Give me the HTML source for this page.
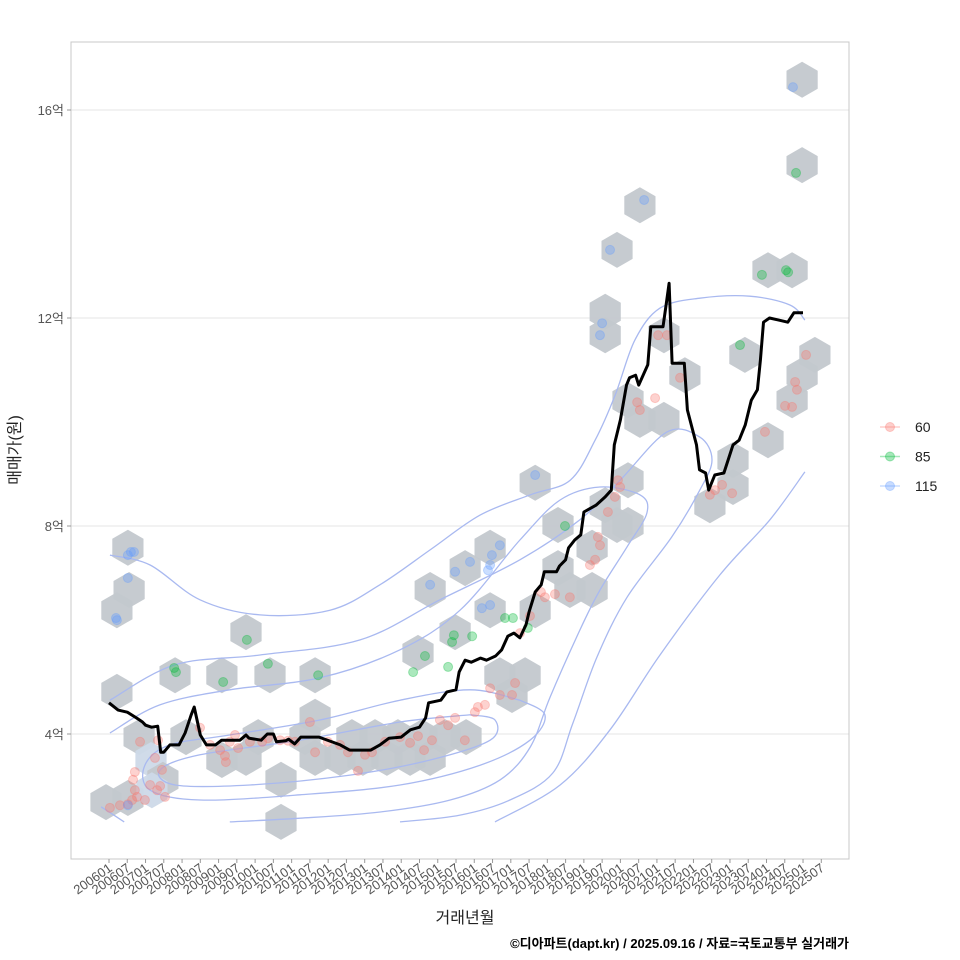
<!DOCTYPE html>
<html><head><meta charset="utf-8">
<style>
html,body{margin:0;padding:0;background:#fff;}
svg{display:block;font-family:"Liberation Sans","Noto Sans CJK KR",sans-serif;}
</style></head>
<body>
<svg id="chart" width="960" height="960" viewBox="0 0 960 960">
<rect x="0" y="0" width="960" height="960" fill="#fff"/>
<g id="grid"></g>
<g id="hexes"></g>
<g id="contours"></g>
<g id="points"></g>
<g id="medline"></g>
<rect x="71" y="42" width="778" height="817" fill="none" stroke="#c8c8c8" stroke-width="1"/>
<g id="yaxis"></g>
<g id="xaxis"></g>
<text x="20" y="450" transform="rotate(-90 20 450)" text-anchor="middle" font-size="16" fill="#222">매매가(원)</text>
<text x="465" y="923" text-anchor="middle" font-size="16" fill="#222">거래년월</text>
<text x="849" y="948" text-anchor="end" font-size="13" font-weight="bold" fill="#000">©디아파트(dapt.kr) / 2025.09.16 / 자료=국토교통부 실거래가</text>
<g id="legend"></g>
</svg>
<script>
const xTicks = ['200601','200607','200701','200707','200801','200807','200901','200907','201001','201007','201101','201107','201201','201207','201301','201307','201401','201407','201501','201507','201601','201607','201701','201707','201801','201807','201901','201907','202001','202007','202101','202107','202201','202207','202301','202307','202401','202407','202501','202507'];
const yTicks = [4,8,12,16];
const yTickLabels = ['4억','8억','12억','16억'];

const medMonths = [0,3,6,9,11,12,14,16,17,18,20,23,25,27,28,30,32,35,37,43,45,46,50,52,54,55,58,59,61,63,69,76,79,86,89,92,96,99,102,104,105,109,111,114,115,117,119,122,124,127,129,131,133,135,137,138,140,142,143,147,148,150,151,153,155,156,160,163,165,166,168,170,171,173,174,177,178,182,183,184,185,189,190,193,194,196,197,199,202,205,207,209,211,213,214,215,217,220,223,225,228];
const medValues = [4.6,4.46,4.42,4.31,4.23,4.17,4.13,4.15,3.65,3.65,3.79,3.79,4.02,4.37,4.52,3.98,3.79,3.79,3.88,3.88,3.98,3.92,3.88,4.0,4.0,3.85,3.87,3.9,3.81,3.94,3.94,3.79,3.69,3.69,3.79,3.92,3.94,4.08,4.13,4.31,4.6,4.65,4.81,4.85,5.19,5.42,5.38,5.46,5.42,5.5,5.62,5.88,5.94,5.85,6.1,6.35,6.73,6.87,7.12,7.12,7.23,7.35,7.58,7.73,7.83,8.27,8.4,8.56,8.69,9.56,10.04,10.71,10.85,10.9,10.71,11.1,11.83,11.83,12.25,12.67,11.13,11.13,10.23,9.56,9.08,9.02,8.69,8.98,9.02,9.56,9.65,9.94,10.42,10.62,11.19,11.92,12.0,11.96,11.92,12.1,12.1];

const hexMonths = [2.6,6.2,6.6,2.6,-1,6.2,9.9,13.8,17.7,14.1,25.3,21.7,37.1,45,37.1,45,52.9,56.5,56.5,49,64.4,67.7,67.7,67.7,75.9,79.8,83.4,87.4,91.3,94.9,98.9,102.8,105.5,101.5,105.5,110.4,113.7,117.3,117,125.2,125.2,128.4,132.4,136.7,140,140,147.5,147.5,151.4,158.7,158.7,163,166.9,170.5,166.9,174.4,170.5,163,163,170.5,174.4,182.3,182.3,189.2,197.4,205,205,208.9,216.5,216.5,224.4,224.4,227.7,231.9,227.7,227.7];
const hexValues = [4.81,7.58,6.77,6.38,2.69,2.77,3.94,3.5,3.12,2.92,3.94,5.13,5.13,5.96,3.5,3.54,5.13,3.12,2.31,3.94,3.94,5.13,4.33,3.54,3.54,3.94,3.54,3.94,3.54,3.94,3.54,3.94,3.54,5.56,6.77,3.94,5.96,3.94,7.19,7.58,6.38,5.13,4.75,5.13,8.83,6.38,8.02,7.19,6.77,6.77,7.58,8.4,8.02,8.02,13.31,14.17,8.88,11.67,12.12,10.42,10.04,10.04,11.67,10.9,8.4,8.75,9.27,11.29,9.65,12.92,12.92,10.42,10.9,11.29,14.94,16.58];
const hexCounts = [1,1,1,1,1,2,1,3,1,3,1,1,1,1,1,1,1,1,1,1,1,1,1,1,1,1,1,1,1,1,1,1,1,1,1,1,1,1,1,1,1,1,2,1,1,1,1,1,1,1,1,1,1,1,1,1,1,1,1,1,1,1,1,1,1,1,1,1,1,1,1,1,1,1,1,1];

const red60Months = [0.3,3.6,6.2,7.6,8.5,7.9,8.5,9.2,11.8,13.5,15.8,16.8,17.4,15.1,18.4,16.1,10.2,29.9,33.2,36.5,38.1,39.7,41.4,42.4,38.4,46.3,50.3,52.2,56.2,58.8,61.1,66,67.7,71.9,75.9,78.5,81.8,84.1,86.4,90.7,95.6,98.9,101.5,103.5,106.1,108.7,111.4,113.7,116.9,120.2,121.2,123.5,125.2,128.4,132.4,133.4,135,138.3,141.9,143.2,146.5,151.4,158,159.7,161.3,160.6,163.9,166.2,167.2,167.9,173.5,174.4,179.4,180.4,183.3,187.6,197.4,199.1,201.4,204.7,215.5,222.1,224.4,225.4,226,229];
const red60Values = [2.58,2.63,2.65,2.73,2.92,3.12,3.27,2.79,2.73,3.02,2.92,3.0,3.31,3.54,2.79,3.88,3.85,4.12,3.79,3.69,3.58,3.85,3.98,3.73,3.46,3.85,3.85,3.92,3.88,3.87,3.85,4.23,3.65,3.85,3.79,3.65,3.29,3.6,3.65,3.85,3.94,3.83,3.96,3.69,3.88,4.27,4.17,4.31,3.88,4.42,4.52,4.56,4.88,4.75,4.75,4.98,5.94,6.27,6.73,6.63,6.69,6.63,7.25,7.35,7.63,7.79,8.27,8.56,8.88,8.75,10.38,10.23,10.46,11.67,11.67,10.85,8.6,8.69,8.79,8.63,9.81,10.31,10.29,10.77,10.62,11.29];
const green85Months = [22,21.4,37.5,45.3,52.2,68.7,99.9,103.8,111.4,113.3,112.7,119.3,130.1,132.7,137.6,149.8,207.3,214.5,222.4,223.1,225.7];
const green85Values = [5.19,5.27,5.0,5.81,5.35,5.13,5.19,5.5,5.29,5.9,5.77,5.88,6.23,6.23,6.04,8.0,11.48,12.83,12.92,12.88,14.79];
const blue115Months = [2.3,2.6,6.2,7.2,8.2,6.2,6.2,105.5,113.7,118.6,124.5,125.2,125.8,128.4,122.5,125.2,140,161.3,162,164.6,175.8,224.7];
const blue115Values = [6.23,6.19,7.0,7.5,7.5,7.44,2.63,6.87,7.12,7.31,7.15,7.25,7.44,7.63,6.42,6.48,8.98,11.67,11.9,13.31,14.27,16.44];

const contourA = [[0.3,7.44],[13.5,7.25],[29.9,6.58],[49.6,6.29],[72.6,6.38],[89,6.87],[105.5,7.54],[121.9,8.21],[138.4,8.6],[151.5,8.88],[159.7,9.65],[166.3,10.52],[172.8,11.58],[181,12.19],[194.1,12.38],[210.5,12.42],[223.7,12.25],[228.6,11.96]];
const contourB = [[126.8,2.31],[148.2,3.02],[164.6,4.08],[181,5.52],[200.7,7.06],[217.1,8.12],[228.6,9.04]];
const contourC = [[0.3,4.65],[21.7,5.33],[49.6,5.52],[82.5,5.81],[108.7,6.58],[135,7.35],[154.7,8.12],[167.9,8.88],[183.3,9.81],[194.1,9.71],[198.1,9.27],[194.1,8.69],[184.9,7.79],[170.2,6.63],[160.3,5.48],[152.4,4.21],[145.8,3.25],[131.7,2.73],[115.3,2.44],[95.6,2.31]];
const contourD = [[0.3,4.02],[16.7,4.56],[39.7,4.85],[69.3,5.08],[95.6,5.62],[115.3,6.38],[135,7.73],[148.2,8.5],[161.3,8.75],[174.4,8.6],[176.7,8.25],[170.2,7.6],[161.3,6.77],[154.7,6.0],[144.9,4.71],[138.4,3.75],[128.5,3.12],[112.1,2.73],[89.1,2.5],[62.8,2.38],[39.7,2.31]];
const contourE = [[135,4.65],[118.6,4.85],[95.6,4.65],[69.3,4.27],[39.7,3.98],[20,3.79],[11.8,3.4],[13.5,2.92],[29.9,2.73],[62.7,2.83],[95.6,3.02],[121.9,3.4],[138.3,3.88],[143.2,4.37],[135,4.65]];
const contourF = [[118.6,4.37],[95.6,4.23],[62.7,3.88],[29.9,3.6],[16.8,3.31],[21.7,3.02],[46.3,3.02],[79.2,3.21],[105.5,3.5],[125.2,3.88],[126.8,4.27],[118.6,4.37]];
const contourG = [[-2.6,2.6],[5,2.31]];

const NS = 'http://www.w3.org/2000/svg';
function xs(m){ return 109 + m*3.044; }
function ys(v){ return 734 - (v-4)*52; }
function mk(tag, attrs, parent){
  const e = document.createElementNS(NS, tag);
  for (const k in attrs) e.setAttribute(k, attrs[k]);
  parent.appendChild(e);
  return e;
}

const grid = document.getElementById('grid');
const yaxis = document.getElementById('yaxis');
yTicks.forEach((t,i)=>{
  const g = mk('line',{x1:71,x2:849,y1:ys(t),y2:ys(t),stroke:'#e6e6e6','stroke-width':1},grid);
  
  
  const tk = mk('line',{x1:67,x2:71,y1:ys(t),y2:ys(t),stroke:'#999'},yaxis);
  
  
  const tx = mk('text',{x:64,y:ys(t)+5,'text-anchor':'end','font-size':13,fill:'#555'},yaxis);
  tx.textContent = yTickLabels[i];
  
  
});

const xaxis = document.getElementById('xaxis');
xTicks.forEach((lab,i)=>{
  const x = xs(i*6);
  const tk = mk('line',{x1:x,x2:x,y1:859,y2:863,stroke:'#999'},xaxis);
  
  
  const tx = mk('text',{x:x+4,y:870,'text-anchor':'end','font-size':13,fill:'#555',transform:`rotate(-35 ${x+4} 870)`},xaxis);
  tx.textContent = lab;
  
  
});

const hexG = document.getElementById('hexes');
const R = 18;
hexMonths.forEach((m,i)=>{
  const cx = xs(m), cy = ys(hexValues[i]);
  let pts = [];
  for (let k=0;k<6;k++){ const a = Math.PI/180*(60*k-90); pts.push((cx+R*Math.cos(a)).toFixed(1)+','+(cy+R*Math.sin(a)).toFixed(1)); }
  const fill = hexCounts[i] > 2 ? '#cdd9e8' : '#c3c8cd';
  const h = mk('polygon',{points:pts.join(' '),fill:fill,'fill-opacity':0.95},hexG);
  
  
});

const conG = document.getElementById('contours');
function smoothPath(arr){
  const p = arr.map(d=>[xs(d[0]),ys(d[1])]);
  let s = 'M'+p[0][0]+','+p[0][1];
  for (let i=0;i<p.length-1;i++){
    const p0=p[Math.max(0,i-1)],p1=p[i],p2=p[i+1],p3=p[Math.min(p.length-1,i+2)];
    const c1=[p1[0]+(p2[0]-p0[0])/6,p1[1]+(p2[1]-p0[1])/6];
    const c2=[p2[0]-(p3[0]-p1[0])/6,p2[1]-(p3[1]-p1[1])/6];
    s+=` C${c1[0].toFixed(1)},${c1[1].toFixed(1)} ${c2[0].toFixed(1)},${c2[1].toFixed(1)} ${p2[0].toFixed(1)},${p2[1].toFixed(1)}`;
  }
  return s;
}
[contourA,contourB,contourC,contourD,contourE,contourF,contourG].forEach(c=>{
  const p = mk('path',{d:smoothPath(c),fill:'none',stroke:'#a9b9f0','stroke-width':1.3},conG);
  
  
});

const ptG = document.getElementById('points');
function drawPts(ms, vs, color, name){
  ms.forEach((m,i)=>{
    const c = mk('circle',{cx:xs(m),cy:ys(vs[i]),r:4.5,fill:color,'fill-opacity':0.33,stroke:color,'stroke-opacity':0.33},ptG);
    
    
  });
}
drawPts(red60Months, red60Values, '#F8766D', 'point-60');
drawPts(green85Months, green85Values, '#00BA38', 'point-85');
drawPts(blue115Months, blue115Values, '#619CFF', 'point-115');

const ml = document.getElementById('medline');
const line = mk('polyline',{points:medMonths.map((m,i)=>xs(m).toFixed(1)+','+ys(medValues[i]).toFixed(1)).join(' '),fill:'none',stroke:'#000','stroke-width':3,'stroke-linejoin':'round'},ml);



const lg = document.getElementById('legend');
const legLabels = ['60','85','115'];
const legColors = ['#F8766D','#00BA38','#619CFF'];
legLabels.forEach((l,i)=>{
  const y = 427 + i*29.5;
  const ln = mk('line',{x1:880,x2:900,y1:y,y2:y,stroke:legColors[i],'stroke-opacity':0.35,'stroke-width':1.5},lg);
  
  
  const c = mk('circle',{cx:890,cy:y,r:4.5,fill:legColors[i],'fill-opacity':0.35,stroke:legColors[i],'stroke-opacity':0.35},lg);
  
  
  const t = mk('text',{x:915,y:y+5,'font-size':14,fill:'#222'},lg);
  t.textContent = l;
  
  
});
</script>
</body></html>
